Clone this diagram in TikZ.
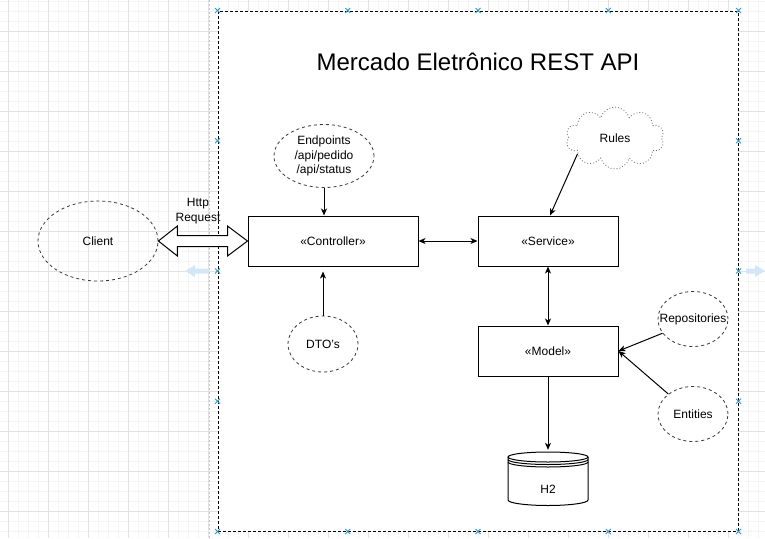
\documentclass[tikz,border=0pt]{standalone}
\usepackage{fontspec}
\setmainfont{Liberation Sans}
\usepackage{xcolor}
\usepackage{tikz}
\usetikzlibrary{arrows.meta,positioning,shapes.geometric,shapes.symbols,calc}
\definecolor{cink}{HTML}{000000}
\definecolor{cdash}{HTML}{3A3A3A}
\definecolor{cgmaj}{HTML}{E2E2E2}
\definecolor{cgmin}{HTML}{F4F4F4}
\definecolor{chandle}{HTML}{2B9BD8}
\definecolor{chover}{HTML}{D2E8F8}
\tikzset{>={Stealth[length=7pt,width=6pt,inset=2pt]},
  layer/.style={draw=cink,line width=1pt,minimum height=50pt,inner sep=0pt,font=\fontsize{12}{14.4}\selectfont},
  bubble/.style={ellipse,draw=cdash,line width=0.8pt,dash pattern=on 3pt off 3pt,inner sep=0pt},
  tag/.style={font=\fontsize{12}{14.4}\selectfont,align=center,inner sep=0pt},
  link/.style={->,line width=1pt},
  handle/.style={chandle,line width=0.8pt}}

\begin{document}
\begin{tikzpicture}[x=1pt,y=-1pt]
\useasboundingbox (0,0) rectangle (765,538);

% ================= canvas grid =================
\foreach \gx in {8,18,...,758} \draw[cgmin,line width=0.8pt] (\gx,0) -- (\gx,538);
\foreach \gy in {1,11,...,531} \draw[cgmin,line width=0.8pt] (0,\gy) -- (765,\gy);
\foreach \gx in {8,48,...,728} \draw[cgmaj,line width=0.8pt] (\gx,0) -- (\gx,538);
\foreach \gy in {31,71,...,511} \draw[cgmaj,line width=0.8pt] (0,\gy) -- (765,\gy);
\draw[gray!45,line width=0.8pt,dash pattern=on 2pt off 2pt] (209,0) -- (209,538);

% ================= API container =================
\node[draw=cink,fill=white,line width=1pt,dash pattern=on 3pt off 2pt,minimum width=520pt,minimum height=520pt,inner sep=0pt] (api) at (478,271) {};
\node[font=\fontsize{24}{28}\selectfont,inner sep=0pt] (title) at (478,62) {Mercado Eletrônico REST API};

% hover arrows
\fill[chover] (185,271) -- ++(10,-6) -- ++(0,3.5) -- ++(13,0) -- ++(0,5) -- ++(-13,0) -- ++(0,3.5) -- cycle;
\fill[chover] (765,271) -- ++(-10,-6) -- ++(0,3.5) -- ++(-9,0) -- ++(0,5) -- ++(9,0) -- ++(0,3.5) -- cycle;

% ================= client side =================
\node[bubble,minimum width=120pt,minimum height=80pt,label={[tag]center:Client}] (client) at (98,241) {};
\node[tag] (http) at (198,211) {Http\\Request};

% ================= layers =================
\node[layer,minimum width=170pt] (ctrl) at (333,241) {«Controller»};
\node[layer,minimum width=140pt] (svc) at (548,241) {«Service»};
\node[layer,minimum width=140pt] (model) at (548,351) {«Model»};

\node[bubble,minimum width=100pt,minimum height=63pt,label={[tag]center:Endpoints\\/api/pedido\\/api/status}] (endp) at (324,156) {};
\node[bubble,minimum width=70pt,minimum height=56pt,label={[tag]center:DTO's}] (dto) at (323,344) {};
\node[cloud,cloud puffs=10,aspect=1.6,draw=cdash!70,line width=0.8pt,dash pattern=on 1pt off 2pt,minimum width=98pt,minimum height=62pt,inner sep=0pt,label={[tag]center:Rules}] (rules) at (615,138) {};
\node[bubble,minimum width=70pt,minimum height=55pt,label={[tag]center:Repositories}] (repo) at (693,319) {};
\node[bubble,minimum width=70pt,minimum height=55pt,label={[tag]center:Entities}] (ent) at (693,414) {};

% H2 data store
\node[minimum width=80pt,minimum height=54pt,inner sep=0pt,label={[tag,yshift=-10pt]center:H2}] (h2) at (548,479) {};
\begin{scope}[shift={(h2.center)},line width=1pt]
  \draw (-40,-22) -- (-40,21) arc[start angle=180,end angle=0,x radius=40,y radius=5.5] -- (40,-22);
  \draw (0,-22) ellipse[x radius=40,y radius=5];
  \draw (-40,-19.5) arc[start angle=180,end angle=0,x radius=40,y radius=5];
  \draw (-40,-17) arc[start angle=180,end angle=0,x radius=40,y radius=5];
\end{scope}

% ================= connectors =================
\draw[line width=1pt,fill=white] (client.east) -- ++(19,-15) -- ++(0,9.5) -- ($(ctrl.west)+(-20,-5.5)$) -- ++(0,-9.5) -- (ctrl.west) -- ++(-20,15) -- ++(0,-9.5) -- ($(client.east)+(19,5.5)$) -- ++(0,9.5) -- cycle;
\draw[link] (endp.south) -- (endp.south |- ctrl.north);
\draw[link,shorten >=5pt] (dto.north) -- (dto.north |- ctrl.south);
\draw[link,<->] (ctrl) -- (svc);
\draw[link] (rules.203) -- ([xshift=2pt]svc.north);
\draw[link,<->] (svc) -- (model);
\draw[link] (repo.205) -- (model.east);
\draw[link] (ent.141) -- (model.east);
\draw[link] (model.south) -- ([yshift=2pt]h2.north);

% selection handles
\foreach \t in {0,0.25,0.5,0.75,1} {
  \draw[handle] ($(api.north west)!\t!(api.north east)$) +(-2.5,-2.5) -- +(2.5,2.5) +(-2.5,2.5) -- +(2.5,-2.5);
  \draw[handle] ($(api.south west)!\t!(api.south east)$) +(-2.5,-2.5) -- +(2.5,2.5) +(-2.5,2.5) -- +(2.5,-2.5);
}
\foreach \t in {0.25,0.5,0.75} {
  \draw[handle] ($(api.north west)!\t!(api.south west)$) +(-2.5,-2.5) -- +(2.5,2.5) +(-2.5,2.5) -- +(2.5,-2.5);
  \draw[handle] ($(api.north east)!\t!(api.south east)$) +(-2.5,-2.5) -- +(2.5,2.5) +(-2.5,2.5) -- +(2.5,-2.5);
}

\end{tikzpicture}
\end{document}
